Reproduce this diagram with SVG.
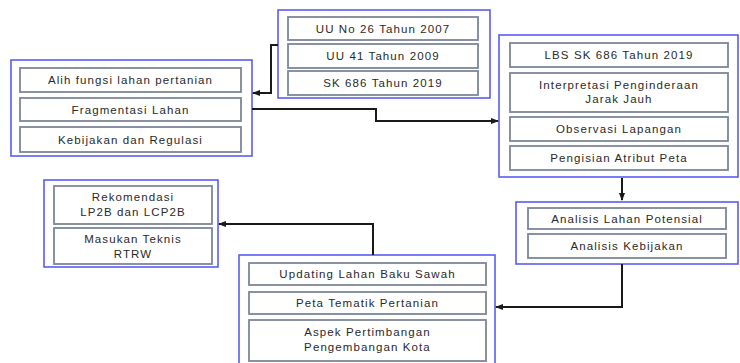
<svg xmlns="http://www.w3.org/2000/svg" width="740" height="363" viewBox="0 0 740 363">
<defs>
<style>
.outer{fill:#fff;stroke:#5a5cf5;stroke-width:1.6}
.inner{fill:#fff;stroke:#7d8799;stroke-width:1.8}
text{font-family:"Liberation Sans",Arial,sans-serif;font-size:11.5px;letter-spacing:1.1px;fill:#2a2a2a;text-anchor:middle}
.conn{fill:none;stroke:#1a1a1a;stroke-width:2}
</style>
<marker id="ah" markerWidth="8" markerHeight="8" refX="7" refY="4" orient="auto" markerUnits="userSpaceOnUse">
<path d="M0,1 L8,4 L0,7 Z" fill="#1a1a1a"/>
</marker>
</defs>
<rect width="740" height="363" fill="#fff"/>

<g id="regulasi">
<rect class="outer" x="278" y="10" width="212" height="88"/>
<rect class="inner" x="288" y="17" width="190" height="23"/>
<text x="383" y="32.5">UU No 26 Tahun 2007</text>
<rect class="inner" x="288" y="44" width="190" height="24"/>
<text x="383" y="60">UU 41 Tahun 2009</text>
<rect class="inner" x="288" y="71" width="190" height="24"/>
<text x="383" y="87">SK 686 Tahun 2019</text>
</g>

<g id="masalah">
<rect class="outer" x="11" y="60" width="241" height="96"/>
<rect class="inner" x="20" y="68" width="221" height="24"/>
<text x="130.5" y="84">Alih fungsi lahan pertanian</text>
<rect class="inner" x="20" y="98" width="221" height="23"/>
<text x="130.5" y="113.5">Fragmentasi Lahan</text>
<rect class="inner" x="20" y="127" width="221" height="25"/>
<text x="130.5" y="143.5">Kebijakan dan Regulasi</text>
</g>

<g id="metode">
<rect class="outer" x="499" y="35" width="239" height="142"/>
<rect class="inner" x="510" y="43" width="218" height="24"/>
<text x="619" y="59">LBS SK 686 Tahun 2019</text>
<rect class="inner" x="510" y="73" width="218" height="39"/>
<text x="619" y="89">Interpretasi Penginderaan</text>
<text x="619" y="103">Jarak Jauh</text>
<rect class="inner" x="510" y="117" width="218" height="24"/>
<text x="619" y="133">Observasi Lapangan</text>
<rect class="inner" x="510" y="146" width="218" height="24"/>
<text x="619" y="162">Pengisian Atribut Peta</text>
</g>

<g id="analisis">
<rect class="outer" x="516" y="202" width="222" height="62"/>
<rect class="inner" x="528" y="208" width="198" height="21"/>
<text x="627" y="222.5">Analisis Lahan Potensial</text>
<rect class="inner" x="528" y="234" width="198" height="24"/>
<text x="627" y="250">Analisis Kebijakan</text>
</g>

<g id="hasil">
<rect class="outer" x="239" y="255" width="256" height="112"/>
<rect class="inner" x="249" y="263" width="237" height="22"/>
<text x="367.5" y="278">Updating Lahan Baku Sawah</text>
<rect class="inner" x="249" y="292" width="237" height="22"/>
<text x="367.5" y="307">Peta Tematik Pertanian</text>
<rect class="inner" x="249" y="320" width="237" height="41"/>
<text x="367.5" y="336">Aspek Pertimbangan</text>
<text x="367.5" y="351">Pengembangan Kota</text>
</g>

<g id="rekomendasi">
<rect class="outer" x="44" y="180" width="174" height="87"/>
<rect class="inner" x="54" y="186" width="158" height="38"/>
<text x="133" y="201">Rekomendasi</text>
<text x="133" y="216">LP2B dan LCP2B</text>
<rect class="inner" x="54" y="228" width="158" height="36"/>
<text x="133" y="243">Masukan Teknis</text>
<text x="133" y="258">RTRW</text>
</g>

<g id="connectors">
<path class="conn" d="M278,45 H271 V93 H253" marker-end="url(#ah)"/>
<path class="conn" d="M252,109 H376 V121 H498" marker-end="url(#ah)"/>
<path class="conn" d="M622,178 V200" marker-end="url(#ah)"/>
<path class="conn" d="M622,264 V307 H496" marker-end="url(#ah)"/>
<path class="conn" d="M373,255 V224 H219" marker-end="url(#ah)"/>
</g>
</svg>
